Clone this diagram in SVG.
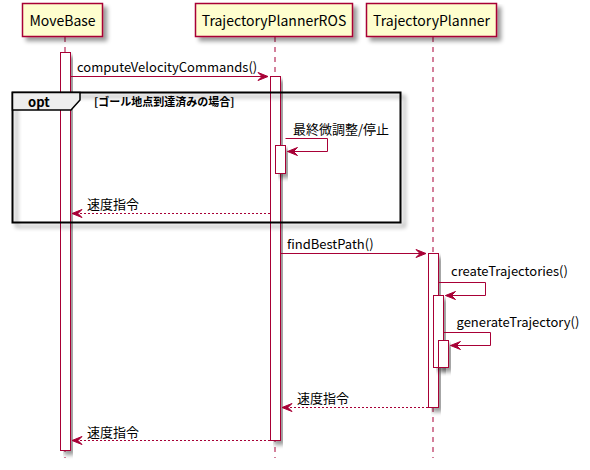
<svg xmlns="http://www.w3.org/2000/svg" width="590" height="470" viewBox="0 0 590 470">
<defs>
<filter id="sh" x="-10%" y="-10%" width="130%" height="140%">
<feGaussianBlur in="SourceAlpha" stdDeviation="2"/>
<feOffset dx="4" dy="4" result="b"/>
<feComponentTransfer><feFuncA type="linear" slope="0.4"/></feComponentTransfer>
<feMerge><feMergeNode/><feMergeNode in="SourceGraphic"/></feMerge>
</filter>
<style>
text{font-family:"Noto Sans CJK JP","Noto Sans",sans-serif;fill:#000}
.hd{fill:#FEFECE;stroke:#A80036;stroke-width:1.5}
.hl{font-size:14px;text-anchor:middle}
.life{stroke:#A80036;stroke-width:1;stroke-dasharray:5,5;fill:none}
.act{fill:#FFFFFF;stroke:#A80036;stroke-width:1}
.msg{stroke:#A80036;stroke-width:1;fill:none}
.ret{stroke:#A80036;stroke-width:1;fill:none;stroke-dasharray:2,2}
.ah{fill:#A80036;stroke:#A80036;stroke-width:1}
.ml{font-size:13px}
.frame{fill:none;stroke:#000;stroke-width:2}
</style>
</defs>
<g id="lifelines">
<line class="life" x1="65" y1="37" x2="65" y2="458"/>
<line class="life" x1="275" y1="37" x2="275" y2="458"/>
<line class="life" x1="433" y1="37" x2="433" y2="458"/>
</g>
<g id="MoveBase">
<rect class="hd" x="22.5" y="3.5" width="80" height="33" filter="url(#sh)"/>
<text class="hl" x="62.5" y="25.5">MoveBase</text>
</g>
<g id="TrajectoryPlannerROS">
<rect class="hd" x="195.5" y="3.5" width="157" height="33" filter="url(#sh)"/>
<text class="hl" x="274" y="25.5">TrajectoryPlannerROS</text>
</g>
<g id="TrajectoryPlanner">
<rect class="hd" x="366.5" y="3.5" width="130" height="33" filter="url(#sh)"/>
<text class="hl" x="431.5" y="25.5">TrajectoryPlanner</text>
</g>
<g id="activations">
<rect class="act" x="60.5" y="52.5" width="10" height="398" filter="url(#sh)"/>
<rect class="act" x="270.5" y="76.5" width="10" height="364" filter="url(#sh)"/>
<rect class="act" x="275.5" y="145.5" width="10" height="28" filter="url(#sh)"/>
<rect class="act" x="428.5" y="253.5" width="10" height="154" filter="url(#sh)"/>
<rect class="act" x="433.5" y="295.5" width="10" height="72" filter="url(#sh)"/>
<rect class="act" x="438.5" y="340.5" width="10" height="27" filter="url(#sh)"/>
</g>
<g id="opt">
<rect class="frame" x="12.5" y="92.5" width="388" height="130" filter="url(#sh)"/>
<polygon points="12.5,92.5 80,92.5 80,100 71,110 12.5,110" fill="#EEEEEE" stroke="#000" stroke-width="1.5"/>
<text x="28" y="106.5" style="font-size:13px;font-weight:bold">opt</text>
<text x="94" y="106" style="font-size:11px;font-weight:bold">[ゴール地点到達済みの場合]</text>
</g>
<g id="connectors">
<line class="msg" x1="70.5" y1="76.5" x2="268" y2="76.5"/>
<polygon class="ah" points="258,72.5 268,76.5 258,80.5 262,76.5"/>
<text class="ml" x="77" y="71.5">computeVelocityCommands()</text>

<polyline class="msg" points="285.5,138.5 327.5,138.5 327.5,151.5 287.5,151.5"/>
<polygon class="ah" points="297.5,147.5 287.5,151.5 297.5,155.5 293.5,151.5"/>
<text class="ml" x="293" y="134">最終微調整/停止</text>

<line class="ret" x1="270" y1="213.5" x2="72" y2="213.5"/>
<polygon class="ah" points="82,209.5 72,213.5 82,217.5 78,213.5"/>
<text class="ml" x="87" y="209">速度指令</text>

<line class="msg" x1="280.5" y1="253.5" x2="426" y2="253.5"/>
<polygon class="ah" points="416,249.5 426,253.5 416,257.5 420,253.5"/>
<text class="ml" x="287" y="249">findBestPath()</text>

<polyline class="msg" points="438.5,282.5 485.5,282.5 485.5,295.5 445.5,295.5"/>
<polygon class="ah" points="455.5,291.5 445.5,295.5 455.5,299.5 451.5,295.5"/>
<text class="ml" x="451" y="276">createTrajectories()</text>

<polyline class="msg" points="443.5,332.5 490.5,332.5 490.5,345.5 450.5,345.5"/>
<polygon class="ah" points="460.5,341.5 450.5,345.5 460.5,349.5 456.5,345.5"/>
<text class="ml" x="456.5" y="327">generateTrajectory()</text>

<line class="ret" x1="428" y1="407.5" x2="282" y2="407.5"/>
<polygon class="ah" points="292,403.5 282,407.5 292,411.5 288,407.5"/>
<text class="ml" x="297" y="403">速度指令</text>

<line class="ret" x1="270" y1="440.5" x2="72" y2="440.5"/>
<polygon class="ah" points="82,436.5 72,440.5 82,444.5 78,440.5"/>
<text class="ml" x="87" y="436.5">速度指令</text>
</g>
</svg>
